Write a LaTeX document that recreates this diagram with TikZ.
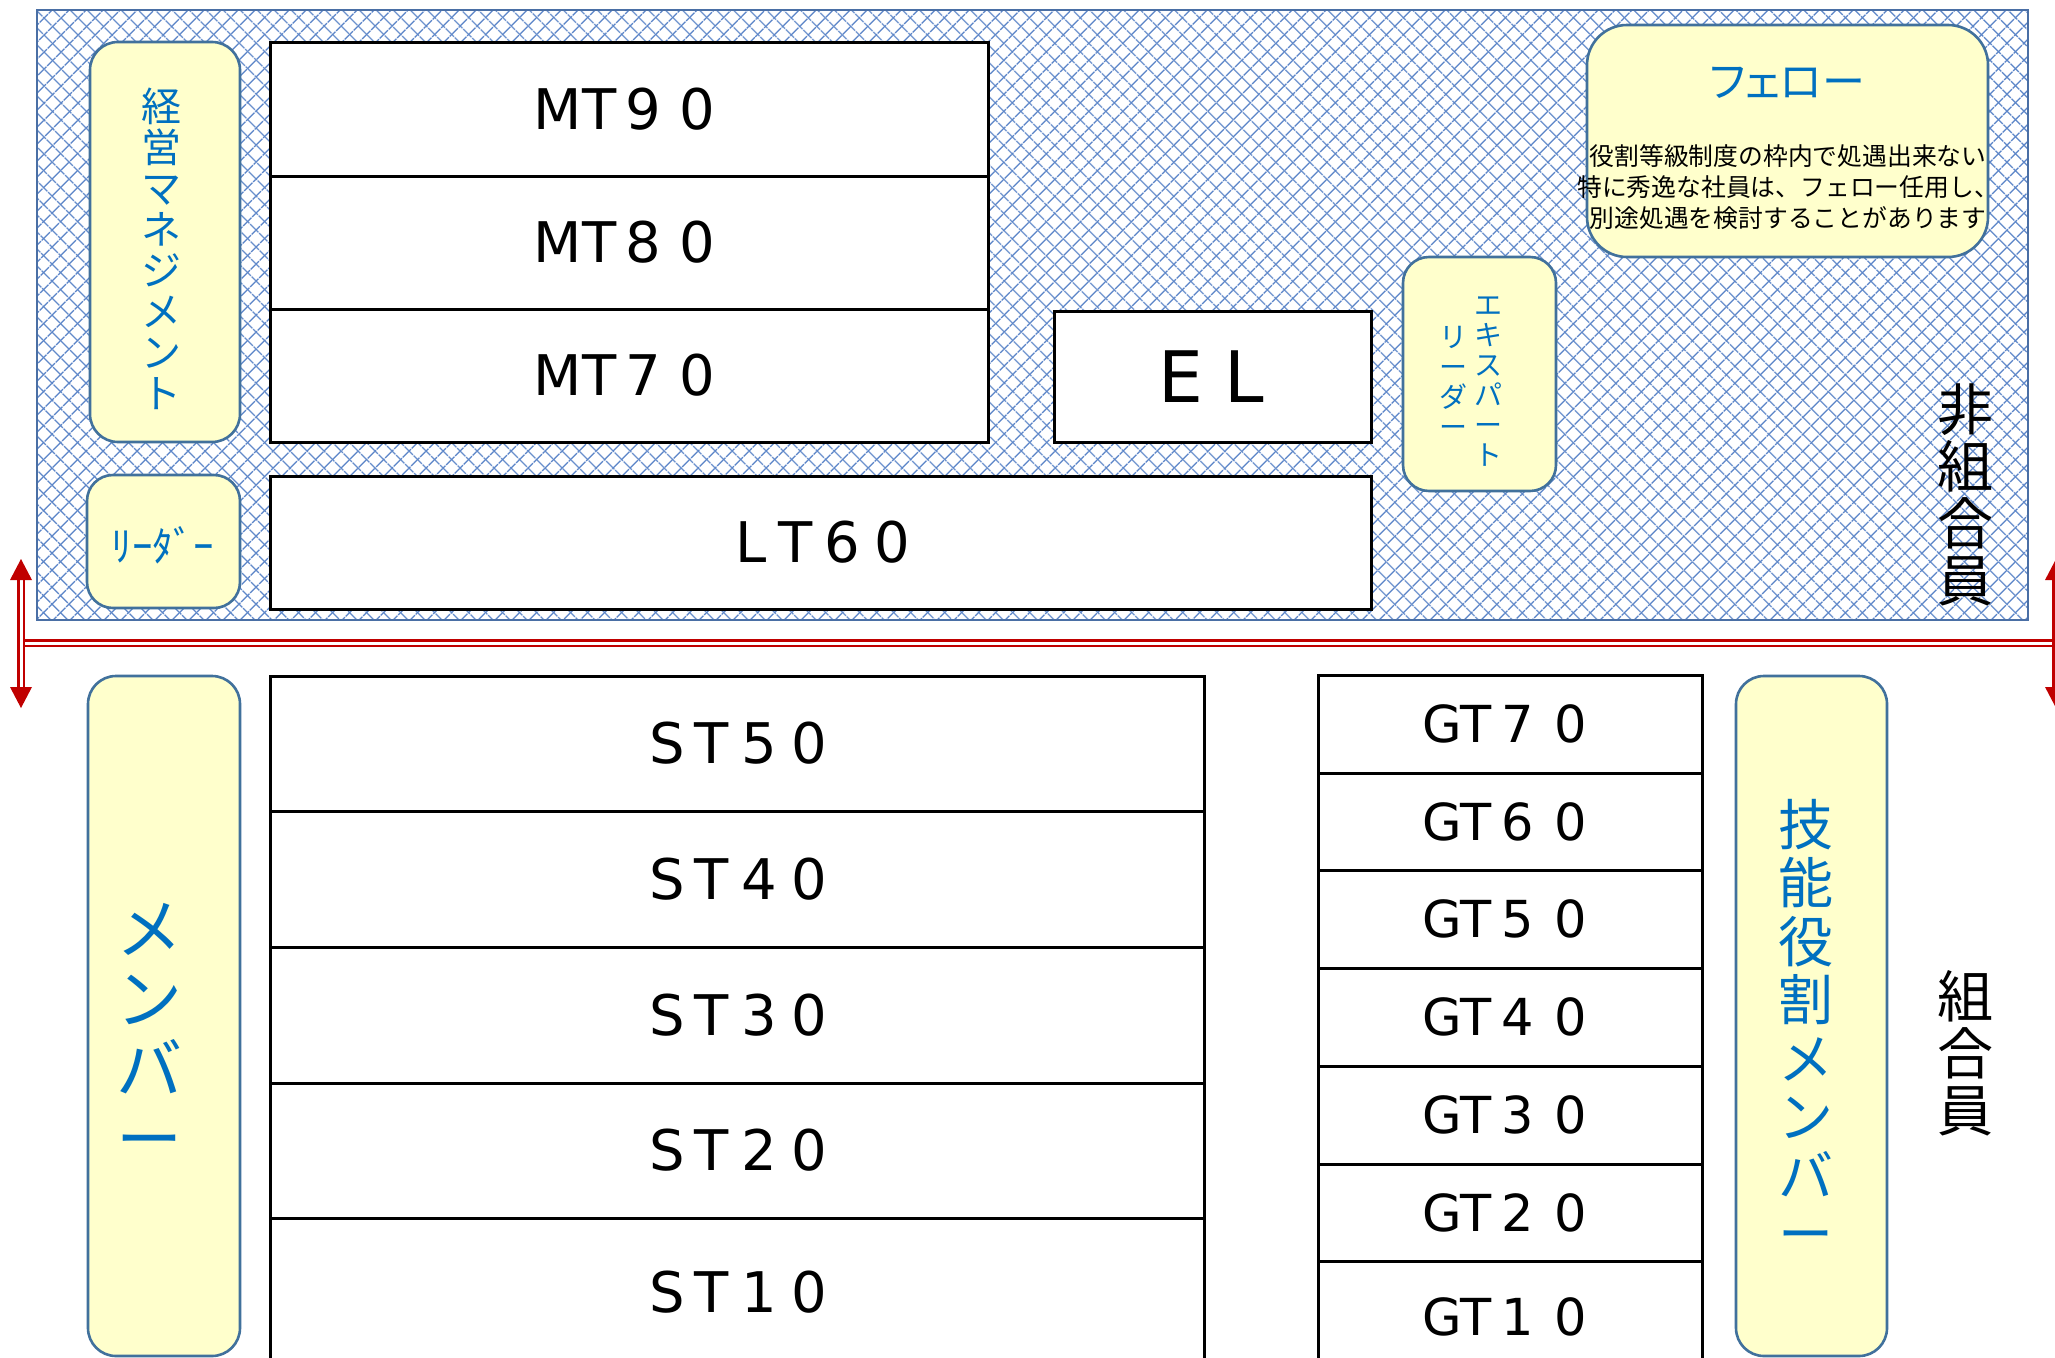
\documentclass[tikz,border=0pt]{standalone}
\usepackage{fontspec}
\setmainfont{DejaVu Sans}
\newfontfamily\jp{Noto Sans CJK JP}
\newfontfamily\jpp[RawFeature=+palt]{Noto Sans CJK JP}
\usetikzlibrary{patterns.meta}
\definecolor{boxyellow}{HTML}{FFFFCC}
\definecolor{boxline}{HTML}{41719C}
\definecolor{hatchblue}{HTML}{5B85C8}
\definecolor{frameblue}{HTML}{4A6FA5}
\definecolor{txtblue}{HTML}{0070C0}
\definecolor{arrred}{HTML}{C00000}
\newcommand\cbx[2]{\makebox[#1pt][c]{#2}}
\begin{document}
\begin{tikzpicture}[x=1pt,y=-1pt,
  tier/.style={draw=black, line width=3pt, fill=white, inner sep=0pt, outer sep=0pt},
  rbox/.style={draw=boxline, fill=boxyellow, line width=2.6pt, rounded corners=28pt, inner sep=0pt, outer sep=0pt},
  lbl/.style={font=\fontsize{56}{56}\selectfont, text=black, inner sep=0pt},
  gtl/.style={font=\fontsize{51}{51}\selectfont, text=black, inner sep=0pt},
  vtxt/.style={align=center, inner sep=0pt, text=txtblue},
  redline/.style={draw=arrred, line width=2.5pt, double=white, double distance=3pt},
  redtip/.style={fill=arrred}
]
\useasboundingbox (0,0) rectangle (2055,1357);
\clip (0,0) rectangle (2055,1357);
\fill[white] (0,0) rectangle (2055,1357);

% hatched background of the upper part
\coordinate (bgA) at (37,10);
\coordinate (bgB) at (2028,620);
\fill[pattern={Lines[angle=45,distance=13pt,line width=1.5pt]}, pattern color=hatchblue] (bgA) rectangle (bgB);
\fill[pattern={Lines[angle=-45,distance=13pt,line width=1.5pt]}, pattern color=hatchblue] (bgA) rectangle (bgB);
\draw[frameblue, line width=2pt] (bgA) rectangle (bgB);

% upper tiers
\node[tier, minimum width=718pt, minimum height=134pt] (mt90) at (629,109) {};
\node[tier, minimum width=718pt, minimum height=133pt] (mt80) at (629,242.5) {};
\node[tier, minimum width=718pt, minimum height=133pt] (mt70) at (629,375.5) {};
\node[tier, minimum width=317pt, minimum height=131pt] (el) at (1212.5,376.5) {};
\node[tier, minimum width=1101pt, minimum height=133pt] (lt60) at (820.5,542.5) {};

\node[lbl] (tmt90) at (mt90) {MT\cbx{54}{9}\cbx{54}{0}};
\node[lbl] (tmt80) at (mt80) {MT\cbx{54}{8}\cbx{54}{0}};
\node[lbl] (tmt70) at (mt70) {MT\cbx{54}{7}\cbx{54}{0}};
\node[lbl, font=\fontsize{71}{71}\selectfont] (tel) at (el) {\cbx{63}{E}\cbx{63}{L}};
\node[lbl] (tlt60) at ([xshift=3pt]lt60.center) {\cbx{44}{L}\cbx{44}{T}\cbx{50}{6}\cbx{50}{0}};

% lower tiers (ST)
\node[tier, minimum width=934pt, minimum height=135pt] (st50) at (737,743.5) {};
\node[tier, minimum width=934pt, minimum height=136pt] (st40) at (737,879) {};
\node[tier, minimum width=934pt, minimum height=136pt] (st30) at (737,1015) {};
\node[tier, minimum width=934pt, minimum height=135pt] (st20) at (737,1150.5) {};
\node[tier, minimum width=934pt, minimum height=148pt] (st10) at (737,1292) {};
\node[lbl] (tst50) at ([xshift=2pt]st50.center) {\cbx{46}{S}\cbx{44}{T}\cbx{50}{5}\cbx{50}{0}};
\node[lbl] (tst40) at ([xshift=2pt]st40.center) {\cbx{46}{S}\cbx{44}{T}\cbx{50}{4}\cbx{50}{0}};
\node[lbl] (tst30) at ([xshift=2pt]st30.center) {\cbx{46}{S}\cbx{44}{T}\cbx{50}{3}\cbx{50}{0}};
\node[lbl] (tst20) at ([xshift=2pt]st20.center) {\cbx{46}{S}\cbx{44}{T}\cbx{50}{2}\cbx{50}{0}};
\node[lbl] (tst10) at ([xshift=2pt]st10.center) {\cbx{46}{S}\cbx{44}{T}\cbx{50}{1}\cbx{50}{0}};

% lower tiers (GT)
\node[tier, minimum width=384pt, minimum height=98pt] (gt70) at (1510,724) {};
\node[tier, minimum width=384pt, minimum height=97pt] (gt60) at (1510,821.5) {};
\node[tier, minimum width=384pt, minimum height=98pt] (gt50) at (1510,919) {};
\node[tier, minimum width=384pt, minimum height=98pt] (gt40) at (1510,1017) {};
\node[tier, minimum width=384pt, minimum height=98pt] (gt30) at (1510,1115) {};
\node[tier, minimum width=384pt, minimum height=97pt] (gt20) at (1510,1212.5) {};
\node[tier, minimum width=384pt, minimum height=106pt] (gt10) at (1510,1314) {};
\node[gtl] (tgt70) at (gt70.center) {GT\cbx{52}{7}\cbx{54}{0}};
\node[gtl] (tgt60) at (gt60.center) {GT\cbx{52}{6}\cbx{54}{0}};
\node[gtl] (tgt50) at (gt50.center) {GT\cbx{52}{5}\cbx{54}{0}};
\node[gtl] (tgt40) at (gt40.center) {GT\cbx{52}{4}\cbx{54}{0}};
\node[gtl] (tgt30) at (gt30.center) {GT\cbx{52}{3}\cbx{54}{0}};
\node[gtl] (tgt20) at (gt20.center) {GT\cbx{52}{2}\cbx{54}{0}};
\node[gtl] (tgt10) at ([yshift=-3pt]gt10.center) {GT\cbx{52}{1}\cbx{54}{0}};

% rounded yellow boxes
\node[rbox, minimum width=150pt, minimum height=400pt] (keiei) at (165,242) {};
\node[rbox, minimum width=153pt, minimum height=133pt, rounded corners=26pt] (leader) at (163.5,541.5) {};
\node[rbox, minimum width=153pt, minimum height=234pt, rounded corners=26pt] (expert) at (1479.5,374) {};
\node[rbox, minimum width=401pt, minimum height=232pt, rounded corners=40pt] (fellow) at (1787.5,141) {};
\node[rbox, minimum width=152pt, minimum height=680pt] (member) at (164,1016) {};
\node[rbox, minimum width=151pt, minimum height=680pt] (gino) at (1811.5,1016) {};

% texts of the yellow boxes
\node[vtxt, font=\jp\fontsize{40}{41}\selectfont] (tkeiei) at (161,249)
  {経\\営\\マ\\ネ\\ジ\\メ\\ン\\ト};
\node[vtxt, font=\jp\fontsize{41}{41}\selectfont] (tleader) at (163,545) {ﾘｰﾀﾞｰ};
\node[vtxt, font=\jp\fontsize{28}{30}\selectfont] (texp1) at (1488,382) {エ\\キ\\ス\\パ\\ー\\ト};
\node[vtxt, font=\jp\fontsize{28}{30}\selectfont] (texp2) at (1453,382) {リ\\ー\\ダ\\ー};
\node[vtxt, font=\jpp\fontsize{43}{43}\selectfont] (tfellow) at (1787,83) {フェロー};
\node[vtxt, text=black, font=\jp\fontsize{24.8}{31}\selectfont] (tfellowbody) at (1788,187)
  {役割等級制度の枠内で処遇出来ない\\特に秀逸な社員は、フェロー任用し、\\別途処遇を検討することがあります};
\node[vtxt, font=\jp\fontsize{66}{70}\selectfont] (tmember) at (149,1033) {メ\\ン\\バ\\ー};
\node[vtxt, font=\jp\fontsize{55}{58.5}\selectfont] (tgino) at (1806,1027)
  {技\\能\\役\\割\\メ\\ン\\バ\\ー};

% side labels
\node[vtxt, text=black, font=\jp\fontsize{56}{57}\selectfont] (thikumiai) at (1965,495) {非\\組\\合\\員};
\node[vtxt, text=black, font=\jp\fontsize{56}{57}\selectfont] (tkumiai) at (1965,1053) {組\\合\\員};

% red boundary line with double arrows
\coordinate (hl) at (21,643);
\coordinate (hr) at (2060,643);
\coordinate (lt) at (21,559);
\coordinate (lb) at (21,708);
\coordinate (rt) at (2056,559);
\coordinate (rb) at (2056,708);
\draw[redline] (hl) -- (hr);
\draw[redline] ([yshift=-19pt]lt) -- ([yshift=19pt]lb);
\draw[redline] ([yshift=-19pt]rt) -- ([yshift=19pt]rb);
\fill[redtip] (lt) -- ++(-11,21) -- ++(22,0) -- cycle;
\fill[redtip] (lb) -- ++(-11,-21) -- ++(22,0) -- cycle;
\fill[redtip] (rt) -- ++(-11,21) -- ++(22,0) -- cycle;
\fill[redtip] (rb) -- ++(-11,-21) -- ++(22,0) -- cycle;
\end{tikzpicture}
\end{document}
